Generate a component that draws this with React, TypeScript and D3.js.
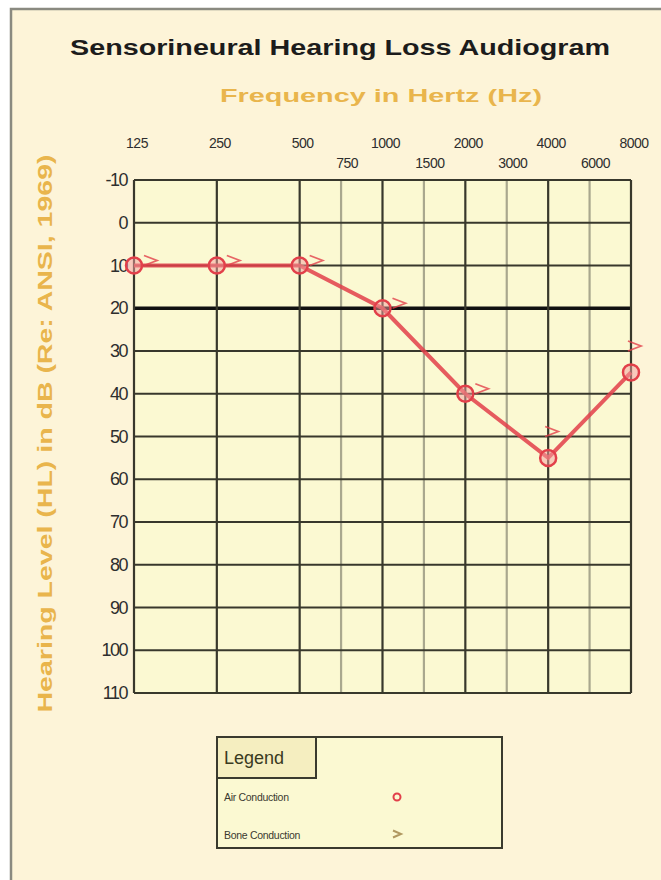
import React, { useEffect, useRef } from 'react';
import * as d3 from 'd3';

// octave frequencies and the inter-octave ones
const freqs = [125, 250, 500, 1000, 2000, 4000, 8000];
const midFreqs = [750, 1500, 3000, 6000];
const dbTicks = [-10, 0, 10, 20, 30, 40, 50, 60, 70, 80, 90, 100, 110];

const airDb = [10, 10, 10, 20, 40, 55, 35];
const boneDb = [10, 10, 10, 20, 40, 50, 30];

const legendItems = ['Air Conduction', 'Bone Conduction'];

const App: React.FC = () => {
  const svgRef = useRef<SVGSVGElement | null>(null);

  useEffect(() => {
    if (!svgRef.current) return;
    const svg = d3.select(svgRef.current);
    svg.selectAll('*').remove();

    const width = 661;
    const height = 880;
    const plot = { left: 134, right: 631, top: 180, bottom: 693 };
    const font = "'Liberation Sans', Arial, sans-serif";
    const red = '#e2404a';
    const gold = '#e9b54c';

    const x = d3.scaleLog().base(2).domain([125, 8000]).range([plot.left, plot.right]);
    const y = d3.scaleLinear().domain([-10, 110]).range([plot.top, plot.bottom]);
    // audiograms draw 750/1500/3000/6000 halfway between the octaves
    const xMid = (f: number) => (x(f / 1.5) + x((f * 4) / 3)) / 2;

    // page
    svg.append('rect').attr('width', width).attr('height', height).attr('fill', '#ffffff');
    svg.append('rect')
      .attr('x', 11).attr('y', 9)
      .attr('width', width).attr('height', height)
      .attr('fill', '#fdf4d8')
      .attr('stroke', '#8a8a80')
      .attr('stroke-width', 2.5);

    // titles
    svg.append('text')
      .attr('x', 340).attr('y', 55)
      .attr('text-anchor', 'middle')
      .attr('font-family', font).attr('font-weight', 'bold').attr('font-size', 22)
      .attr('fill', '#1c1c1c')
      .attr('textLength', 540).attr('lengthAdjust', 'spacingAndGlyphs')
      .text('Sensorineural Hearing Loss Audiogram');

    svg.append('text')
      .attr('x', 381).attr('y', 102)
      .attr('text-anchor', 'middle')
      .attr('font-family', font).attr('font-weight', 'bold').attr('font-size', 19)
      .attr('fill', gold)
      .attr('textLength', 322).attr('lengthAdjust', 'spacingAndGlyphs')
      .text('Frequency in Hertz (Hz)');

    svg.append('text')
      .attr('transform', `translate(52,${(plot.top + plot.bottom) / 2 - 3}) rotate(-90)`)
      .attr('text-anchor', 'middle')
      .attr('font-family', font).attr('font-weight', 'bold').attr('font-size', 20)
      .attr('fill', gold)
      .attr('textLength', 558).attr('lengthAdjust', 'spacingAndGlyphs')
      .text('Hearing Level (HL) in dB (Re: ANSI, 1969)');

    // plot area
    svg.append('rect')
      .attr('x', plot.left).attr('y', plot.top)
      .attr('width', plot.right - plot.left).attr('height', plot.bottom - plot.top)
      .attr('fill', '#fbf9d2');

    const g = svg.append('g');

    g.selectAll('.minor')
      .data(midFreqs)
      .join('line')
      .attr('x1', d => xMid(d)).attr('x2', d => xMid(d))
      .attr('y1', plot.top).attr('y2', plot.bottom)
      .attr('stroke', '#a9a88e').attr('stroke-width', 2.2);

    g.selectAll('.hline')
      .data(dbTicks)
      .join('line')
      .attr('x1', plot.left).attr('x2', plot.right)
      .attr('y1', d => y(d)).attr('y2', d => y(d))
      .attr('stroke', d => (d === 20 ? '#111111' : '#38382c'))
      .attr('stroke-width', d => (d === 20 ? 3.5 : 2.2));

    g.selectAll('.vline')
      .data(freqs)
      .join('line')
      .attr('x1', d => x(d)).attr('x2', d => x(d))
      .attr('y1', plot.top).attr('y2', plot.bottom)
      .attr('stroke', '#38382c').attr('stroke-width', 2.2);

    // axis labels
    g.selectAll('.flabel')
      .data(freqs)
      .join('text')
      .attr('x', d => x(d) + 3).attr('y', 148)
      .attr('text-anchor', 'middle')
      .attr('font-family', font).attr('font-size', 14)
      .attr('letter-spacing', -0.5)
      .attr('fill', '#2e2e2e')
      .text(d => d);

    g.selectAll('.mlabel')
      .data(midFreqs)
      .join('text')
      .attr('x', d => xMid(d) + 6).attr('y', 168)
      .attr('text-anchor', 'middle')
      .attr('font-family', font).attr('font-size', 14)
      .attr('letter-spacing', -0.5)
      .attr('fill', '#2e2e2e')
      .text(d => d);

    g.selectAll('.dblabel')
      .data(dbTicks)
      .join('text')
      .attr('x', 127).attr('y', d => y(d) + 6)
      .attr('text-anchor', 'end')
      .attr('font-family', font).attr('font-size', 18)
      .attr('letter-spacing', -1.5)
      .attr('fill', '#2e2e2e')
      .text(d => d);

    // air conduction line + circles
    const pts = freqs.map((f, i) => ({ f, air: airDb[i], bone: boneDb[i] }));
    const line = d3.line<any>().x(d => x(d.f)).y(d => y(d.air));

    g.append('path')
      .datum(pts)
      .attr('fill', 'none')
      .attr('stroke', red)
      .attr('stroke-opacity', 0.85)
      .attr('stroke-width', 4)
      .attr('d', line);

    g.selectAll('.air')
      .data(pts)
      .join('circle')
      .attr('cx', d => x(d.f)).attr('cy', d => y(d.air))
      .attr('r', 8)
      .attr('fill', '#f4a0a0').attr('fill-opacity', 0.5)
      .attr('stroke', red).attr('stroke-width', 2.5);

    // bone conduction ">" markers
    g.selectAll('.bone')
      .data(pts)
      .join('path')
      .attr('transform', d => {
        const dx = d.bone === d.air ? 17 : 4;
        return `translate(${x(d.f) + dx},${y(d.bone) - 5})`;
      })
      .attr('d', 'M-7,-5 L6,0 L-7,5')
      .attr('fill', 'none')
      .attr('stroke', red).attr('stroke-opacity', 0.8)
      .attr('stroke-width', 1.8);

    // legend
    const lg = svg.append('g').attr('transform', 'translate(217,737)');
    lg.append('rect')
      .attr('width', 285).attr('height', 111)
      .attr('fill', '#fbf9d2')
      .attr('stroke', '#3a3a2e').attr('stroke-width', 2);
    lg.append('rect')
      .attr('width', 99).attr('height', 41)
      .attr('fill', '#f5eec0')
      .attr('stroke', '#3a3a2e').attr('stroke-width', 2);
    lg.append('text')
      .attr('x', 7).attr('y', 27)
      .attr('font-family', font).attr('font-size', 18)
      .attr('fill', '#3a3a20')
      .text('Legend');

    legendItems.forEach((label, i) => {
      const row = lg.append('g').attr('transform', `translate(0,${60 + i * 38})`);
      row.append('text')
        .attr('x', 7).attr('y', 4)
        .attr('font-family', font).attr('font-size', 10.5)
        .attr('letter-spacing', -0.3)
        .attr('fill', '#3a3a30')
        .text(label);
      if (i === 0) {
        row.append('circle')
          .attr('cx', 180).attr('cy', 0).attr('r', 3.5)
          .attr('fill', 'none').attr('stroke', red).attr('stroke-width', 2);
      } else {
        row.append('path')
          .attr('transform', 'translate(180,-1)')
          .attr('d', 'M-4,-3.5 L4,0 L-4,3.5')
          .attr('fill', 'none').attr('stroke', '#b09860').attr('stroke-width', 2);
      }
    });
  }, []);

  return (
    <div style={{ position: 'absolute', left: 0, top: 0, width: 661, height: 880 }}>
      <svg ref={svgRef} width={661} height={880} style={{ display: 'block' }} />
    </div>
  );
};

export default App;
